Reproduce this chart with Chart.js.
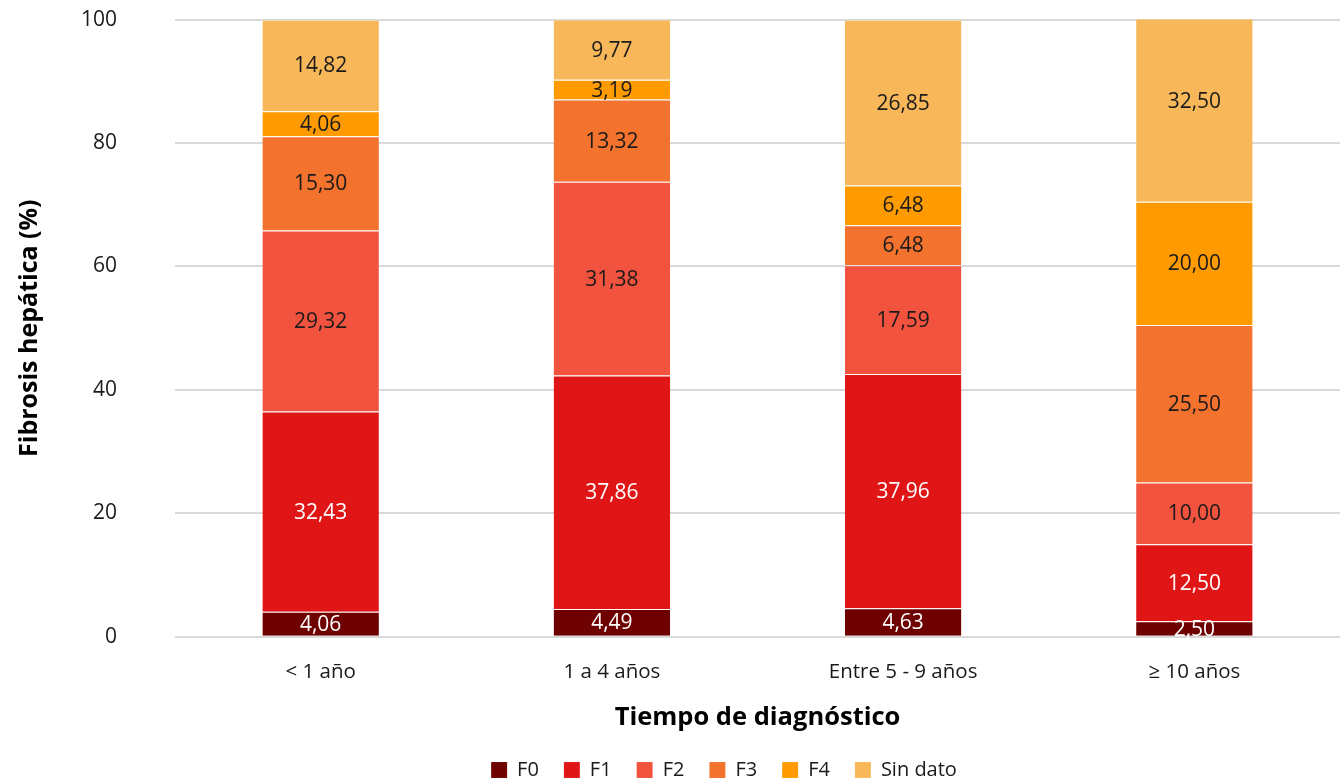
<!DOCTYPE html>
<html>
<head>
<meta charset="utf-8">
<script src="https://cdn.jsdelivr.net/npm/chart.js@4.4.0/dist/chart.umd.min.js"></script>
<style>
  html, body { margin: 0; padding: 0; background: #fff; }
  #wrap { width: 1340px; height: 782px; }
</style>
</head>
<body>
<div id="wrap"><canvas id="chart"></canvas></div>
<script>
// categories and series (% por grado de fibrosis)
const categories = ['< 1 año', '1 a 4 años', 'Entre 5 - 9 años', '≥ 10 años'];
const seriesNames = ['F0', 'F1', 'F2', 'F3', 'F4', 'Sin dato'];
const f0 = [4.06, 4.49, 4.63, 2.50];
const f1 = [32.43, 37.86, 37.96, 12.50];
const f2 = [29.32, 31.38, 17.59, 10.00];
const f3 = [15.30, 13.32, 6.48, 25.50];
const f4 = [4.06, 3.19, 6.48, 20.00];
const sinDato = [14.82, 9.77, 26.85, 32.50];
const yTicks = [0, 20, 40, 60, 80, 100];

const colors = ['#6e0000', '#e01616', '#f2533f', '#f2722e', '#ff9b00', '#f8b85a'];
const labelColors = ['#ffffff', '#ffffff', '#1a1a1a', '#1a1a1a', '#1a1a1a', '#1a1a1a'];
const FONT = '"Open Sans", sans-serif';

// writes the value in the middle of every segment
const segmentLabels = {
  id: 'segmentLabels',
  afterDatasetsDraw(chart) {
    const ctx = chart.ctx;
    ctx.save();
    ctx.font = '21px ' + FONT;
    ctx.textAlign = 'center';
    ctx.textBaseline = 'middle';
    chart.data.datasets.forEach((ds, i) => {
      const meta = chart.getDatasetMeta(i);
      meta.data.forEach((bar, j) => {
        const v = ds.data[j];
        const yMid = (bar.y + bar.base) / 2;
        ctx.fillStyle = labelColors[i];
        ctx.fillText(v.toFixed(2).replace('.', ','), bar.x, yMid + 1);
      });
    });
    ctx.restore();
  }
};

// legend in the original sits a bit right of the canvas centre
const legendShift = {
  id: 'legendShift',
  afterLayout(chart) {
    chart.legend.left += 50;
    chart.legend.right += 50;
  }
};

const allSeries = [f0, f1, f2, f3, f4, sinDato];

new Chart(document.getElementById('chart'), {
  type: 'bar',
  data: {
    labels: categories,
    datasets: allSeries.map((d, i) => ({
      label: seriesNames[i],
      data: d,
      backgroundColor: colors[i],
      borderColor: 'rgba(255,255,255,0.35)',
      borderWidth: { top: 1 },
      borderSkipped: 'bottom',
      barPercentage: 0.4,
      categoryPercentage: 1
    }))
  },
  options: {
    responsive: true,
    maintainAspectRatio: false,
    animation: false,
    layout: { padding: { left: 8, right: 0, top: 0, bottom: -8 } },
    plugins: {
      legend: {
        position: 'bottom',
        labels: {
          color: '#1a1a1a',
          font: { family: FONT, size: 20 },
          boxWidth: 16,
          boxHeight: 16,
          padding: 25
        }
      },
      tooltip: { enabled: false }
    },
    scales: {
      x: {
        stacked: true,
        grid: { display: false },
        border: { display: false },
        ticks: { color: '#1a1a1a', font: { family: FONT, size: 20.5 }, padding: 15 },
        title: {
          display: true,
          text: 'Tiempo de diagnóstico',
          color: '#000',
          font: { family: FONT, size: 25.5, weight: 'bold' },
          padding: { top: 3, bottom: 2 }
        }
      },
      y: {
        stacked: true,
        min: 0,
        max: 100,
        afterBuildTicks: axis => { axis.ticks = yTicks.map(v => ({ value: v })); },
        grid: { color: '#d9d9d9', lineWidth: 2, drawTicks: true, tickLength: 51, tickColor: 'rgba(0,0,0,0)' },
        border: { display: false },
        ticks: { color: '#1a1a1a', font: { family: FONT, size: 21 }, padding: 7 },
        title: {
          display: true,
          text: 'Fibrosis hepática (%)',
          color: '#000',
          font: { family: FONT, size: 25, weight: 'bold' },
          padding: { top: 7, bottom: 29 }
        }
      }
    }
  },
  plugins: [segmentLabels, legendShift]
});
</script>
</body>
</html>
